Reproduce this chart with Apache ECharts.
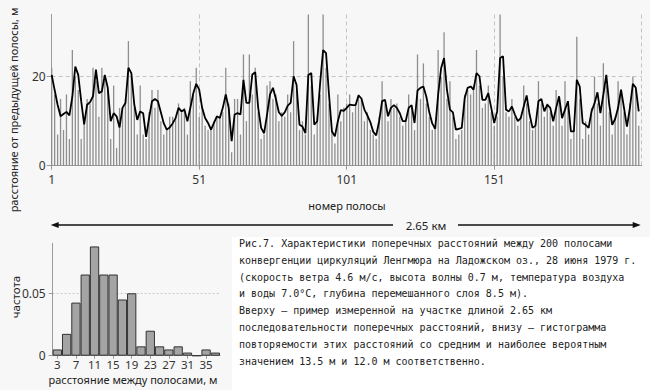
<!DOCTYPE html>
<html><head><meta charset="utf-8">
<script src="https://cdn.jsdelivr.net/npm/echarts@6/dist/echarts.min.js"></script>
<style>html,body{margin:0;padding:0;background:#f7f7f7;}#c{width:650px;height:390px;}</style>
</head><body><div id="c"></div>
<script>
// top panel: distance to previous strip (m) for strips 1..200
const stripValues = [
22,16,7,15,8,16,6,26,20,17, 6,10,15,14,22,19,11,22,20,17,
6,18,4,13,13,15,28,20,13,7, 18,7,6,12,17,13,17,10,7,8,
11,11,11,14,12,13,7,19,16,22, 11,13,9,8,8,10,11,11,12,22,
14,3,15,15,7,25,10,25,16,22, 12,6,7,18,19,15,16,10,12,11,
16,12,28,17,8,10,7,34,18,7, 11,16,34,22,14,8,5,16,10,13,
14,16,12,14,16,15,10,12,8,7, 6,11,19,14,10,15,13,14,11,9,
10,16,13,8,25,15,23,14,11,8, 9,26,20,30,15,19,11,6,7,8,
16,17,16,18,26,18,13,14,18,12, 9,11,34,20,12,11,15,11,9,11,
18,14,10,8,9,19,14,11,14,12, 9,17,15,9,19,13,6,8,29,15,
6,10,7,13,20,14,9,23,18,12, 7,11,19,16,12,7,14,20,17,9
];
// top panel: smoothed curve (black line)
const smoothValues = [
20.4,17.0,13.7,11.1,11.6,12.1,11.3,15.5,22.3,20.4, 14.5,9.3,13.7,14.3,15.6,21.6,16.3,16.7,20.4,17.5,
10.0,11.8,11.1,8.6,13.0,14.1,22.0,20.8,13.7,10.3, 12.2,11.8,6.5,10.7,14.5,15.0,14.5,12.0,9.5,8.1,
8.6,9.5,10.7,13.0,12.2,12.6,10.0,13.0,16.3,18.4, 17.1,13.0,10.7,9.6,8.1,9.6,11.1,10.7,13.0,16.0,
13.0,5.5,11.5,11.8,11.5,19.3,14.1,14.1,20.5,21.0, 13.0,8.5,7.3,11.5,16.0,17.5,15.0,12.0,11.2,12.0,
13.5,14.1,20.1,18.2,9.2,8.8,7.3,20.4,20.8,9.2, 10.0,18.6,26.0,25.3,16.0,7.7,6.6,10.0,12.5,12.3,
13.0,13.7,13.6,13.6,15.8,15.1,12.6,11.3,9.8,7.6, 6.8,10.0,14.5,14.8,11.1,13.0,13.6,13.0,11.8,10.0,
10.0,13.0,13.6,9.6,16.9,17.5,17.8,15.5,12.0,9.5, 8.3,16.0,21.9,24.2,17.0,12.6,12.0,8.1,8.3,8.5,
15.2,17.5,17.8,17.1,20.8,20.1,14.8,14.8,16.3,13.0, 9.6,12.2,24.2,24.6,12.6,12.2,13.3,11.5,10.0,10.7,
13.3,15.8,11.5,8.5,9.0,14.5,15.0,12.2,13.7,13.0, 10.0,13.0,15.6,10.7,12.6,14.5,7.7,7.7,19.3,17.8,
9.6,9.2,8.5,12.2,14.0,16.5,11.8,16.0,20.4,13.7, 9.2,10.5,13.0,17.1,13.0,8.8,13.0,18.4,17.5,12.2
];
const topXTicks = [1, 51, 101, 151, 201];
const topYTicks = [0, 20];
// histogram
const histBins = ['3','5','7','9','11','13','15','17','19','21','23','25','27','29','31','33','35','37'];
const histFreq = [0.005,0.0175,0.0425,0.065,0.0875,0.065,0.065,0.045,0.05,0.0075,0.02,0.0075,0.005,0.0075,0.0025,0,0.005,0.0025];
const histYTicks = [0, 0.05];
const captionLines = [
'Рис.7. Характеристики поперечных расстояний между 200 полосами',
'конвергенции циркуляций Ленгмюра на Ладожском оз., 28 июня 1979 г.',
'(скорость ветра 4.6 м/с, высота волны 0.7 м, температура воздуха',
'и воды 7.0°С, глубина перемешанного слоя 8.5 м).',
'Вверху — пример измеренной на участке длиной 2.65 км',
'последовательности поперечных расстояний, внизу — гистограмма',
'повторяемости этих расстояний со средним и наиболее вероятным',
'значением 13.5 м и 12.0 м соответственно.'
];
const FF = 'Noto Sans';
const chart = echarts.init(document.getElementById('c'), null, {renderer: 'svg'});
const axisGrey = '#9a9a9a';
const dash = {color: '#c4c4c4', type: [4, 3], width: 1};
chart.setOption({
  animation: false,
  backgroundColor: '#f7f7f7',
  grid: [
    {left: 51.7, right: 8.3, top: 14.4, bottom: 224.3},
    {left: 52.7, right: 430, top: 243.3, bottom: 34.3}
  ],
  xAxis: [
    {gridIndex: 0, type: 'value', min: topXTicks[0], max: topXTicks[topXTicks.length-1], interval: 50,
     axisLine: {lineStyle: {color: axisGrey}},
     axisTick: {show: true, length: 4, lineStyle: {color: axisGrey}},
     axisLabel: {showMaxLabel: false, margin: 8, fontSize: 12, color: '#333', fontFamily: FF},
     splitLine: {show: true, lineStyle: dash}},
    {gridIndex: 1, type: 'category', data: histBins, boundaryGap: true,
     axisLine: {lineStyle: {color: axisGrey}},
     axisTick: {show: true, alignWithLabel: true, interval: 1, length: 3, lineStyle: {color: axisGrey}},
     axisLabel: {interval: 1, margin: 3, fontSize: 11.5, color: '#333', fontFamily: FF},
     splitLine: {show: false}}
  ],
  yAxis: [
    {gridIndex: 0, type: 'value', min: 0, max: 34,
     axisLine: {show: true, lineStyle: {color: axisGrey}},
     axisTick: {show: true, length: 5, customValues: topYTicks, lineStyle: {color: axisGrey}},
     axisLabel: {customValues: topYTicks, margin: 6, fontSize: 12, color: '#333', fontFamily: FF},
     splitLine: {show: true, lineStyle: dash}},
    {gridIndex: 1, type: 'value', min: 0, max: 0.09,
     axisLine: {show: true, lineStyle: {color: axisGrey}},
     axisTick: {show: true, length: 4, customValues: histYTicks, lineStyle: {color: axisGrey}},
     axisLabel: {customValues: histYTicks, margin: 7, fontSize: 12, color: '#333', fontFamily: FF,
       formatter: v => v === 0 ? '0' : String(v)},
     splitLine: {show: true, lineStyle: {color: '#c8c8c8', type: [2, 2], width: 1}}}
  ],
  series: [
    {type: 'bar', xAxisIndex: 0, yAxisIndex: 0, clip: false, silent: true,
     data: stripValues.map((v, i) => [i + 1, v]), barWidth: 1.3,
     itemStyle: {color: '#8e8e8e'}},
    {type: 'line', xAxisIndex: 0, yAxisIndex: 0, silent: true, symbol: 'none',
     data: smoothValues.map((v, i) => [i + 1, v]),
     lineStyle: {color: '#000', width: 1.8}, z: 5},
    {type: 'bar', xAxisIndex: 1, yAxisIndex: 1, silent: true, data: histFreq,
     barCategoryGap: '0%', itemStyle: {color: '#a4a4a4', borderColor: '#333', borderWidth: 1}}
  ]
});
const pL = chart.convertToPixel({gridIndex: 0}, [topXTicks[0], 0]);
const pR = chart.convertToPixel({gridIndex: 0}, [topXTicks[topXTicks.length-1], 0]);
const ay = 225;
const x1 = pL[0] - 1, x2 = pR[0] - 1;
const txtStyle = (s, size) => ({text: s, fontFamily: FF, fontSize: size, fill: '#222'});
chart.setOption({
  graphic: [
    {type: 'rect', shape: {x: 232, y: 237, width: 418, height: 153}, style: {fill: '#ffffff'}, z: -10, silent: true},
    {type: 'text', x: 13, y: 110, rotation: Math.PI / 2,
     style: Object.assign(txtStyle('расстояние от предыдущей полосы, м', 11), {align: 'center', verticalAlign: 'middle'})},
    {type: 'text', x: 347, y: 205,
     style: Object.assign(txtStyle('номер полосы', 11), {align: 'center', verticalAlign: 'middle'})},
    {type: 'line', shape: {x1: x1 + 5, y1: ay, x2: 393, y2: ay}, style: {stroke: '#111', lineWidth: 1.5}},
    {type: 'line', shape: {x1: 458, y1: ay, x2: x2 - 5, y2: ay}, style: {stroke: '#111', lineWidth: 1.5}},
    {type: 'polygon', shape: {points: [[x1, ay], [x1 + 8, ay - 3], [x1 + 8, ay + 3]]}, style: {fill: '#111'}},
    {type: 'polygon', shape: {points: [[x2, ay], [x2 - 8, ay - 3], [x2 - 8, ay + 3]]}, style: {fill: '#111'}},
    {type: 'text', x: 426, y: ay,
     style: Object.assign(txtStyle('2.65 км', 11.5), {align: 'center', verticalAlign: 'middle'})},
    {type: 'text', x: 15, y: 297, rotation: Math.PI / 2,
     style: Object.assign(txtStyle('частота', 11.5), {align: 'center', verticalAlign: 'middle'})},
    {type: 'text', x: 133, y: 379,
     style: Object.assign(txtStyle('расстояние между полосами, м', 11), {align: 'center', verticalAlign: 'middle'})},
    {type: 'text', x: 239, y: 235,
     style: {text: captionLines.join('\n'), fontFamily: 'DejaVu Sans Mono', fontSize: 10, lineHeight: 16.8, fill: '#222', align: 'left', verticalAlign: 'top'}}
  ]
});
</script></body></html>
